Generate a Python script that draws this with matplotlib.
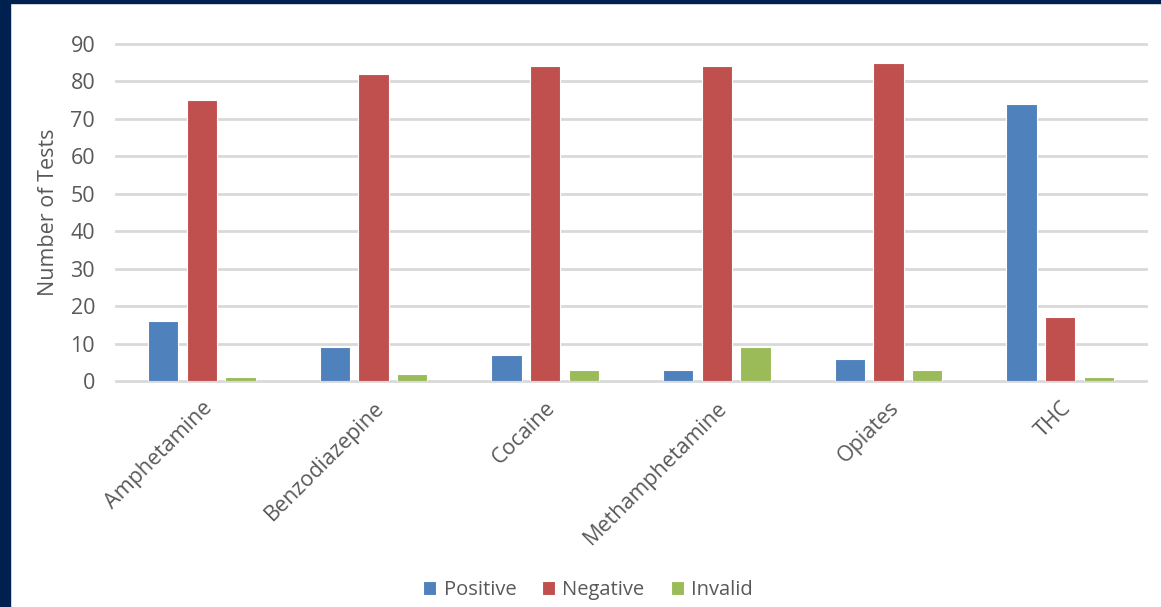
import numpy as np
import matplotlib.pyplot as plt
from matplotlib.patches import Rectangle

drugs = ['Amphetamine', 'Benzodiazepine', 'Cocaine', 'Methamphetamine', 'Opiates', 'THC']
positive = [16, 9, 7, 3, 6, 74]
negative = [75, 82, 84, 84, 85, 17]
invalid = [1, 2, 3, 9, 3, 1]

plt.rcParams['font.family'] = ['Open Sans', 'DejaVu Sans']
txt = '#595959'
fs = 15.5

fig = plt.figure(figsize=(11.61, 6.07), dpi=100)
ax = fig.add_axes([116/1161, 1-381/607, (1146-116)/1161, (381-44)/607])

x = np.arange(len(drugs))
w = 0.178
step = 0.225
b1 = ax.bar(x-step, positive, w, color='#4F81BD', edgecolor='white', linewidth=0.8, zorder=3)
b2 = ax.bar(x, negative, w, color='#C0504D', edgecolor='white', linewidth=0.8, zorder=3)
b3 = ax.bar(x+step, invalid, w, color='#9BBB59', edgecolor='white', linewidth=0.8, zorder=3)

ax.set_xlim(-0.5, len(drugs)-0.5)
ax.set_ylim(0, 90)
ax.set_yticks(range(0, 91, 10))
ax.grid(axis='y', color='#D9D9D9', lw=2)
for g in ax.get_ygridlines():
    g.set_clip_on(False)
ax.set_axisbelow(True)
for s in ax.spines.values():
    s.set_visible(False)
ax.tick_params(axis='both', length=0, colors=txt, labelsize=fs)
ax.tick_params(axis='y', pad=15)
ax.set_xticks(x)
ax.set_xticklabels(drugs, rotation=45, ha='right', rotation_mode='anchor', fontsize=fs, color=txt)
ax.tick_params(axis='x', pad=12)
ax.set_ylabel('Number of Tests', fontsize=fs, color=txt, labelpad=8)

fig.legend((b1, b2, b3), ('Positive', 'Negative', 'Invalid'), loc='center',
           bbox_to_anchor=(588/1161, 1-590/607), ncol=3, frameon=False,
           handlelength=0.65, handleheight=0.65, handletextpad=0.35, columnspacing=1.3,
           fontsize=14.5, labelcolor=txt)

# dark frame along the left and top edge
navy = '#00204F'
fig.patches.append(Rectangle((0, 0), 10/1161, 1, transform=fig.transFigure, color=navy, zorder=10))
fig.patches.append(Rectangle((0, 1-3/607), 1, 3/607, transform=fig.transFigure, color=navy, zorder=10))

fig.savefig('out.png', dpi=100)
